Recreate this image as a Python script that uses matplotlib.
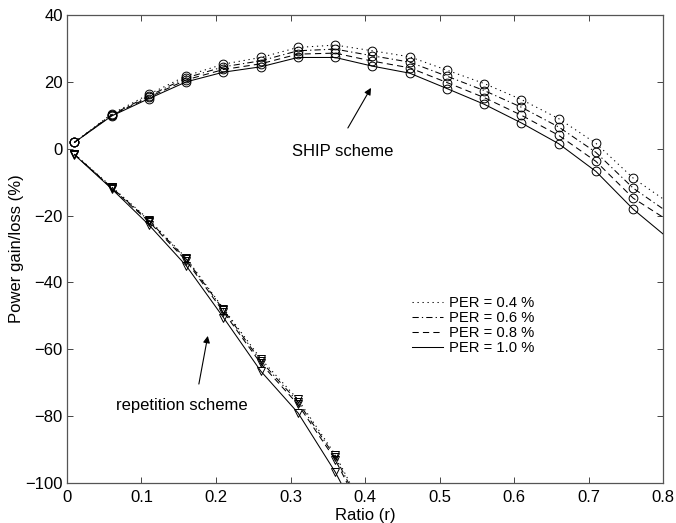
import numpy as np
import matplotlib
matplotlib.use('Agg')
import matplotlib.pyplot as plt

plt.rcParams['font.family'] = ['Liberation Sans', 'DejaVu Sans']

# Simulation points (ratio r)
r_ship = [0.01, 0.06, 0.11, 0.16, 0.21, 0.26, 0.31, 0.36, 0.41, 0.46, 0.51, 0.56, 0.61, 0.66, 0.71, 0.76]
r_rep = [0.01, 0.06, 0.11, 0.16, 0.21, 0.26, 0.31, 0.36]

per_labels = ['PER = 0.4 %', 'PER = 0.6 %', 'PER = 0.8 %', 'PER = 1.0 %']
# dotted, dash-dot, dashed, solid (dash lengths in units of line width)
styles = [(0, (1.2, 3.6)), (0, (6.0, 3.0, 1.2, 3.0)), (0, (6.0, 4.0)), '-']

# SHIP scheme power gain (%), one list per PER
ship_04 = [1.9, 10.4, 16.3, 21.8, 25.3, 27.3, 30.3, 31.0, 29.3, 27.5, 23.5, 19.5, 14.7, 9.0, 1.6, -8.8]
ship_06 = [1.9, 10.2, 15.8, 21.2, 24.5, 26.3, 29.3, 29.8, 27.8, 25.9, 21.7, 17.4, 12.4, 6.5, -1.1, -11.8]
ship_08 = [1.9, 10.0, 15.4, 20.6, 23.7, 25.4, 28.3, 28.6, 26.2, 24.2, 19.8, 15.3, 10.0, 4.0, -3.8, -14.8]
ship_10 = [1.9, 9.8, 15.0, 20.0, 22.9, 24.5, 27.3, 27.3, 24.7, 22.6, 18.0, 13.3, 7.7, 1.5, -6.8, -18.1]
# curve end values at r = 0.8
ship_end = [-15.0, -18.0, -20.5, -25.5]

# repetition scheme power loss (%), one list per PER
rep_04 = [-1.6, -11.4, -21.2, -32.7, -47.8, -62.8, -75.0, -91.5]
rep_06 = [-1.7, -11.6, -21.5, -33.0, -48.2, -63.5, -75.7, -92.2]
rep_08 = [-1.7, -11.8, -21.8, -33.5, -48.8, -64.2, -76.5, -93.0]
rep_10 = [-1.8, -12.0, -22.8, -35.0, -50.5, -66.5, -79.0, -96.7]
# curve continues below the axis at r = 0.41
rep_end = [-113.0, -114.0, -115.0, -118.0]

ship = [ship_04, ship_06, ship_08, ship_10]
rep = [rep_04, rep_06, rep_08, rep_10]

fig = plt.figure(figsize=(6.76, 5.23), dpi=100)
ax = fig.add_axes([0.0991, 0.0765, 0.8817, 0.8948])

lw = 0.75
for k in range(4):
    ax.plot(r_ship + [0.8], ship[k] + [ship_end[k]], color='k', ls=styles[k], lw=lw,
            label=per_labels[k])
    ax.plot(r_rep + [0.41], rep[k] + [rep_end[k]], color='k', ls=styles[k], lw=lw)
    ax.plot(r_ship, ship[k], ls='none', marker='o', ms=6.3, mfc='none', mec='k', mew=0.7)
    ax.plot(r_rep, rep[k], ls='none', marker='v', ms=6.3, mfc='none', mec='k', mew=0.7)

ax.set_xlim(0, 0.8)
ax.set_ylim(-100, 40)
ax.set_xticks(np.arange(0, 0.81, 0.1))
ax.set_xticklabels(['0', '0.1', '0.2', '0.3', '0.4', '0.5', '0.6', '0.7', '0.8'])
ax.set_yticks(np.arange(-100, 41, 20))
ax.tick_params(direction='in', top=True, right=True, length=4, width=0.7,
               labelsize=12, color='#444444')
ax.tick_params(axis='x', pad=5)
ax.tick_params(axis='y', pad=3)
for s in ax.spines.values():
    s.set_color('#555555')
    s.set_linewidth(0.9)

ax.set_xlabel('Ratio (r)', fontsize=12, labelpad=2)
ax.set_ylabel('Power gain/loss (%)', fontsize=12, labelpad=1)

arrow = dict(arrowstyle='-|>', color='k', lw=0.8, mutation_scale=10, shrinkA=0, shrinkB=0)
ax.annotate('', xy=(0.408, 18.2), xytext=(0.377, 6.2), arrowprops=arrow)
ax.text(0.302, -0.7, 'SHIP scheme', fontsize=12, ha='left', va='center')
ax.annotate('', xy=(0.189, -56.0), xytext=(0.177, -70.4), arrowprops=arrow)
ax.text(0.066, -76.7, 'repetition scheme', fontsize=12, ha='left', va='center')

ax.legend(loc='upper left', bbox_to_anchor=(0.579, 0.400), frameon=False, fontsize=10.6,
          handlelength=2.1, handletextpad=0.4, labelspacing=0.07, borderpad=0, borderaxespad=0)

fig.savefig('out.png', dpi=100)
